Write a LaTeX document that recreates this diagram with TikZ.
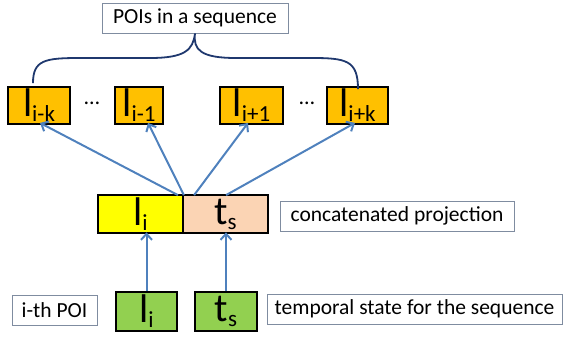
\documentclass[tikz,border=0pt]{standalone}
\usepackage{fontspec}
\setmainfont{Carlito}
\usetikzlibrary{arrows.meta}
\definecolor{poiorange}{RGB}{255,192,0}
\definecolor{projyellow}{RGB}{255,255,0}
\definecolor{projpeach}{RGB}{251,212,180}
\definecolor{inputgreen}{RGB}{146,208,80}
\definecolor{arrowblue}{RGB}{79,129,189}
\definecolor{bracenavy}{RGB}{31,56,110}
\definecolor{labelframe}{RGB}{127,140,160}
\newcommand{\bigsym}[2]{{\fontsize{40}{40}\selectfont #1}\raisebox{-5pt}{\fontsize{23}{23}\selectfont #2}}
\begin{document}
\begin{tikzpicture}[x=1pt,y=-1pt,
  cell/.style={draw=black,line width=1.8pt,inner sep=0pt,minimum height=37pt},
  poi/.style={cell,fill=poiorange,minimum width=62pt},
  label/.style={draw=labelframe,line width=0.8pt,fill=white,inner sep=0pt,minimum height=30pt,font=\fontsize{21.5}{21.5}\selectfont},
  arr/.style={draw=arrowblue,line width=2pt,-{Straight Barb[length=6pt,width=11pt]}}]
\useasboundingbox (0,0) rectangle (566,337);

% labels
\node[label,minimum width=186pt] (seq) at (195,18) {POIs in a sequence};
\node[label,minimum width=234pt] (cp) at (397,216) {concatenated projection};
\node[label,minimum width=295pt] (ts) at (414.5,309) {temporal state for the sequence};
\node[label,minimum width=85pt] (ith) at (54.5,310) {i-th POI};

% context POIs
\node[poi] (lk) at (39,105.5) {\bigsym{l}{i-k}};
\node[poi,minimum width=48pt] (l1) at (139,105.5) {\bigsym{l}{i-1}};
\node[poi,minimum width=63pt] (lp1) at (251.5,105.5) {\bigsym{l}{i+1}};
\node[poi,minimum width=61pt] (lpk) at (357.5,105.5) {\bigsym{l}{i+k}};
\node[font=\fontsize{22}{22}\selectfont] (d1) at (92,103) {\dots};
\node[font=\fontsize{22}{22}\selectfont] (d2) at (307,103) {\dots};

% brace over the sequence
\draw[bracenavy,line width=1.8pt] (lk.north) ++(-6,-3) coordinate (bl)
  .. controls (33,60) and (45,58) .. (80,58) -- (150,58)
  .. controls (185,58) and (193,50) .. (seq.south)
  .. controls (193,50) and (201,58) .. (236,58) -- (311,58)
  .. controls (346,58) and (358,60) .. ([xshift=0.5pt,yshift=-3pt]lpk.north);

% concatenated projection
\node[cell,fill=projyellow,minimum width=85pt,minimum height=38pt] (py) at (140.5,214) {\bigsym{l}{i}};
\node[cell,fill=projpeach,minimum width=85pt,minimum height=38pt] (pp) at (225.5,214) {\bigsym{t}{s}};

% inputs
\node[cell,fill=inputgreen,minimum width=61pt,minimum height=39pt] (gl) at (146.5,311.5) {\bigsym{l}{i}};
\node[cell,fill=inputgreen,minimum width=62pt,minimum height=39pt] (gt) at (226,311.5) {\bigsym{t}{s}};

% connectors
\draw[arr] ([xshift=-6pt,yshift=-1pt]py.north east) -- ([xshift=1pt,yshift=2pt]lk.south);
\draw[arr] ([yshift=-1pt]py.north east) -- ([xshift=9pt,yshift=2pt]l1.south);
\draw[arr] ([xshift=12pt,yshift=-1pt]pp.north west) -- ([xshift=-3.5pt,yshift=2pt]lp1.south);
\draw[arr] ([xshift=44pt,yshift=-1pt]pp.north west) -- ([xshift=-2.5pt,yshift=2pt]lpk.south);
\draw[arr] (gl.north) -- ([yshift=1.5pt]gl.north |- py.south);
\draw[arr] (gt.north) -- ([yshift=1.5pt]gt.north |- pp.south);
\end{tikzpicture}
\end{document}
